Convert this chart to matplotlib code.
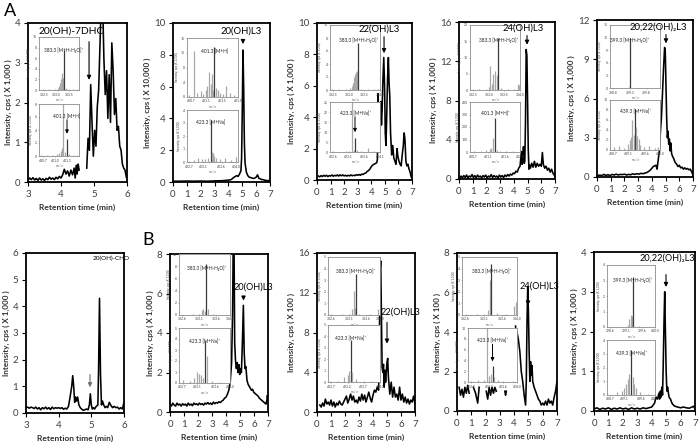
import matplotlib
matplotlib.use("Agg")
import matplotlib.pyplot as plt
import numpy as np

plt.rcParams['font.family'] = ['Lato', 'DejaVu Sans']

nan = float('nan')

# ---------------- chromatograms (time in min, intensity in axis units) ----------------
p1_t = [3.0, 3.05, 3.1, 3.15, 3.2, 3.25, 3.3, 3.35, 3.4, 3.45, 3.5, 3.55, 3.6, 3.65, 3.7, 3.75,
        3.8, 3.85, 3.9, 3.95, 4.0, 4.05, 4.1, 4.15, 4.2, 4.25, 4.3, 4.35, 4.4, 4.43, 4.46, 4.49,
        4.52, 4.55, 4.6, 4.78, 4.82, 4.86, 4.9, 4.94, 4.98, 5.02, 5.06, 5.1, 5.14, 5.18, 5.22,
        5.26, 5.3, 5.34, 5.38, 5.42, 5.46, 5.5, 5.54, 5.58, 5.62, 5.66, 5.7, 5.74, 5.78, 5.82,
        5.86, 5.9, 5.94, 5.98]
p1_y = [0.04, 0.1, 0.06, 0.11, 0.05, 0.09, 0.04, 0.1, 0.05, 0.08, 0.04, 0.09, 0.06, 0.12, 0.07, 0.1,
        0.06, 0.12, 0.08, 0.14, 0.1, 0.18, 0.32, 0.2, 0.28, 0.15, 0.3, 0.18, 0.35, 0.1, 0.42, 0.2,
        0.45, 0.3, nan, 0.35, 1.1, 0.8, 2.45, 1.5, 0.65, 1.3, 0.9, 1.9, 2.3, 3.4, 4.6,
        4.6, 3.1, 2.2, 2.8, 1.6, 2.7, 1.5, 3.5, 2.8, 1.7, 2.1, 1.3, 1.4, 0.9, 0.8,
        0.45, 0.35, 0.3, 0.12]

p2_t = [0.0, 0.5, 1.0, 1.5, 2.0, 2.5, 3.0, 3.5, 3.8, 4.0, 4.2, 4.4, 4.5, 4.6, 4.7, 4.8, 4.9, 4.95,
        5.0, 5.05, 5.1, 5.15, 5.2, 5.3, 5.4, 5.5, 5.6, 5.7, 5.8, 5.9, 6.0, 6.1, 6.15, 6.2, 6.3,
        6.4, 6.5, 6.6, 6.7, 6.8, 6.9, 7.0]
p2_y = [0.05, 0.05, 0.06, 0.05, 0.06, 0.05, 0.07, 0.08, 0.1, 0.12, 0.15, 0.3, 0.35, 0.4, 0.35, 0.5,
        0.7, 1.5, 4.5, 8.3, 6.0, 2.5, 1.2, 0.6, 0.4, 0.3, 0.28, 0.25, 0.22, 0.25, 0.3, 0.45, 0.35,
        0.22, 0.2, 0.15, 0.15, 0.12, 0.1, 0.08, 0.1, 0.05]

p3_t = [0.1, 0.2, 0.3, 0.4, 0.5, 0.6, 0.7, 0.8, 0.9, 1.0, 1.1, 1.2, 1.3, 1.4, 1.5, 1.6, 1.7, 1.8,
        1.9, 2.0, 2.1, 2.2, 2.3, 2.4, 2.5, 2.6, 2.7, 2.8, 2.9, 3.0, 3.1, 3.2, 3.3, 3.4, 3.5, 3.6,
        3.7, 3.8, 3.9, 4.0, 4.1, 4.2, 4.3, 4.4, 4.45, 4.5, 4.55, 4.6, 4.65, 4.7, 4.75, 4.8, 4.85,
        4.92, 4.98, 5.03, 5.08, 5.13, 5.2, 5.26, 5.31, 5.36, 5.42, 5.5, 5.58, 5.66, 5.74, 5.82,
        5.9, 5.96, 6.04, 6.12, 6.2, 6.28, 6.36, 6.42, 6.48, 6.55, 6.62, 6.7, 6.78, 6.86, 6.94, 7.0]
p3_y = [0.25, 0.2, 0.28, 0.22, 0.3, 0.24, 0.3, 0.22, 0.28, 0.25, 0.32, 0.24, 0.3, 0.26, 0.32, 0.25,
        0.33, 0.27, 0.32, 0.26, 0.3, 0.25, 0.3, 0.26, 0.32, 0.27, 0.3, 0.28, 0.34, 0.3, 0.35, 0.3,
        0.38, 0.35, 0.42, 0.45, 0.55, 0.6, 0.7, 0.85, 0.95, 1.0, 1.05, 1.1, 1.3, 5.5, 3.5, 4.6,
        3.8, 5.0, 3.5, 4.5, 6.2, 7.8, 6.0, 3.0, 2.2, 3.8, 6.5, 7.8, 6.2, 5.4, 3.0, 1.6, 2.2, 1.4,
        1.2, 1.0, 2.0, 1.5, 1.2, 1.0, 0.9, 1.6, 2.2, 3.0, 2.6, 1.2, 0.9, 1.0, 0.7, 0.5, 0.2, 0.1]

p4_t = [0.05, 0.15, 0.25, 0.35, 0.45, 0.55, 0.65, 0.75, 0.85, 0.95, 1.05, 1.15, 1.25, 1.35, 1.45,
        1.55, 1.65, 1.75, 1.85, 1.95, 2.05, 2.15, 2.25, 2.35, 2.45, 2.55, 2.65, 2.75, 2.85, 2.95,
        3.05, 3.15, 3.25, 3.35, 3.45, 3.55, 3.65, 3.75, 3.85, 3.95, 4.05, 4.15, 4.25, 4.35, 4.45,
        4.55, 4.6, 4.65, 4.7, 4.75, 4.8, 4.85, 4.9, 4.95, 5.0, 5.05, 5.1, 5.15, 5.2, 5.3, 5.4,
        5.5, 5.6, 5.7, 5.8, 5.9, 6.0, 6.08, 6.15, 6.25, 6.35, 6.45, 6.55, 6.65, 6.75, 6.85, 6.95, 7.0]
p4_y = [0.1, 0.3, 0.1, 0.35, 0.15, 0.4, 0.1, 0.3, 0.2, 0.45, 0.15, 0.35, 0.1, 0.4, 0.2,
        0.3, 0.1, 0.35, 0.2, 0.4, 0.1, 0.3, 0.2, 0.45, 0.15, 0.35, 0.2, 0.3, 0.1, 0.4,
        0.2, 0.35, 0.15, 0.4, 0.25, 0.45, 0.3, 0.5, 0.4, 0.6, 0.55, 0.8, 0.7, 1.1, 1.3,
        2.8, 1.5, 2.0, 3.3, 1.6, 1.8, 6.0, 13.2, 12.6, 8.0, 3.0, 1.0, 1.4, 1.1, 1.6, 1.2,
        1.8, 1.2, 1.6, 1.3, 1.5, 1.3, 2.7, 1.5, 1.1, 1.3, 0.9, 1.1, 0.7, 1.0, 0.6, 0.4, 0.2]

p5_t = [0.05, 0.2, 0.35, 0.5, 0.65, 0.8, 0.95, 1.1, 1.25, 1.4, 1.55, 1.7, 1.85, 2.0, 2.15, 2.3,
        2.45, 2.6, 2.75, 2.9, 3.05, 3.2, 3.35, 3.5, 3.65, 3.8, 3.95, 4.1, 4.2, 4.3, 4.38, 4.45,
        4.55, 4.62, 4.7, 4.78, 4.86, 4.93, 4.98, 5.03, 5.08, 5.13, 5.18, 5.23, 5.28, 5.33, 5.38,
        5.44, 5.5, 5.6, 5.7, 5.8, 5.9, 6.0, 6.1, 6.2, 6.3, 6.4, 6.5, 6.6, 6.7, 6.8, 6.9, 7.0]
p5_y = [0.1, 0.15, 0.1, 0.2, 0.12, 0.18, 0.1, 0.2, 0.15, 0.22, 0.15, 0.2, 0.18, 0.22, 0.15, 0.2,
        0.17, 0.24, 0.2, 0.25, 0.22, 0.28, 0.25, 0.3, 0.35, 0.45, 0.6, 0.8, 0.85, 0.9, 0.6, 1.2,
        2.0, 3.4, 4.6, 6.5, 8.5, 9.9, 9.5, 7.0, 4.5, 3.0, 3.5, 2.5, 2.9, 2.0, 2.6,
        1.8, 1.6, 1.4, 1.1, 1.0, 0.8, 0.9, 0.7, 0.75, 0.6, 0.7, 0.6, 0.65, 0.55, 0.6, 0.4, 0.15]

p6_t = [3.0, 3.05, 3.1, 3.15, 3.2, 3.25, 3.3, 3.35, 3.4, 3.45, 3.5, 3.55, 3.6, 3.65, 3.7, 3.75,
        3.8, 3.85, 3.9, 3.95, 4.0, 4.05, 4.1, 4.15, 4.2, 4.25, 4.3, 4.35, 4.4, 4.43, 4.46, 4.49,
        4.52, 4.55, 4.58, 4.62, 4.66, 4.7, 4.75, 4.8, 4.85, 4.9, 4.94, 4.97, 5.0, 5.03, 5.07,
        5.1, 5.15, 5.2, 5.22, 5.25, 5.28, 5.31, 5.34, 5.38, 5.42, 5.46, 5.5, 5.55, 5.6, 5.65,
        5.7, 5.75, 5.8, 5.85, 5.9, 5.95, 6.0]
p6_y = [0.2, 0.22, 0.18, 0.22, 0.2, 0.17, 0.22, 0.15, 0.2, 0.12, 0.2, 0.16, 0.22, 0.15, 0.2, 0.13,
        0.22, 0.16, 0.2, 0.18, 0.2, 0.17, 0.2, 0.14, 0.18, 0.15, 0.25, 0.6, 1.0, 1.4, 1.0, 0.4,
        0.6, 0.45, 0.6, 0.3, 0.2, 0.15, 0.1, 0.12, 0.15, 0.12, 0.3, 0.72, 0.3, 0.15, 0.2,
        0.15, 0.25, 0.3, 1.5, 4.3, 1.5, 0.3, 0.45, 0.3, 0.2, 0.25, 0.2, 0.4, 0.28, 0.2,
        0.25, 0.2, 0.22, 0.15, 0.2, 0.15, 0.4]

p7_t = [0.0, 0.1, 0.2, 0.3, 0.4, 0.5, 0.6, 0.7, 0.8, 0.9, 1.0, 1.1, 1.2, 1.3, 1.4, 1.5, 1.6, 1.7,
        1.8, 1.9, 2.0, 2.1, 2.2, 2.3, 2.4, 2.5, 2.6, 2.7, 2.8, 2.9, 3.0, 3.1, 3.2, 3.3, 3.4, 3.5,
        3.6, 3.7, 3.8, 3.9, 4.0, 4.1, 4.2, 4.3, 4.4, 4.47, 4.52, 4.57, 4.62, 4.68, 4.74, 4.8,
        4.86, 4.92, 4.98, 5.04, 5.1, 5.17, 5.24, 5.3, 5.36, 5.42, 5.5, 5.58, 5.66, 5.74, 5.82,
        5.9, 5.98, 6.06, 6.14, 6.22, 6.3, 6.38, 6.46, 6.54, 6.62, 6.7, 6.78, 6.86, 6.92, 6.96, 7.0]
p7_y = [0.4, 0.3, 0.45, 0.35, 0.3, 0.45, 0.35, 0.4, 0.3, 0.42, 0.35, 0.4, 0.3, 0.45, 0.35, 0.4,
        0.32, 0.45, 0.38, 0.42, 0.35, 0.45, 0.38, 0.42, 0.35, 0.45, 0.4, 0.48, 0.4, 0.45, 0.38,
        0.5, 0.42, 0.48, 0.45, 0.52, 0.48, 0.55, 0.6, 0.7, 0.75, 0.9, 1.1, 1.5, 2.5, 5.0, 9.0,
        9.0, 3.5, 2.6, 2.2, 2.5, 2.0, 2.4, 1.9, 2.2, 2.0, 3.5, 5.4, 3.0, 2.2, 2.3, 1.6, 1.4,
        1.3, 1.2, 1.1, 1.15, 1.0, 0.95, 0.9, 0.85, 0.8, 0.7, 0.65, 0.6, 0.55, 0.5, 0.45, 0.4,
        0.6, 0.85, 0.6]

p8_t = [0.2, 0.3, 0.4, 0.5, 0.6, 0.7, 0.8, 0.9, 1.0, 1.1, 1.2, 1.3, 1.4, 1.5, 1.6, 1.7, 1.8, 1.9,
        2.0, 2.1, 2.2, 2.3, 2.4, 2.5, 2.6, 2.7, 2.8, 2.9, 3.0, 3.1, 3.2, 3.3, 3.4, 3.5, 3.6, 3.7,
        3.8, 3.9, 4.0, 4.1, 4.2, 4.3, 4.4, 4.45, 4.5, 4.55, 4.6, 4.65, 4.7, 4.75, 4.8, 4.85, 4.9,
        5.0, 5.05, 5.1, 5.2, 5.3, 5.4, 5.5, 5.6, 5.7, 5.8, 5.9, 6.0, 6.1, 6.2, 6.3, 6.4, 6.5,
        6.6, 6.7, 6.8, 6.9, 7.0]
p8_y = [0.7, 0.5, 0.9, 0.6, 1.3, 0.8, 1.0, 0.7, 1.2, 0.6, 1.0, 0.5, 0.9, 0.7, 1.1, 0.8, 0.7, 1.0,
        1.3, 1.6, 0.9, 1.3, 1.8, 1.2, 1.6, 1.0, 1.2, 0.9, 1.5, 1.1, 1.8, 1.2, 1.7, 1.0, 1.5, 2.0,
        1.4, 1.0, 1.7, 2.2, 2.0, 2.5, 2.2, 6.0, 14.0, 15.2, 10.0, 4.5, 4.0, 4.8, 2.5, 4.2, 3.0,
        5.0, 5.4, 3.5, 1.8, 3.0, 1.5, 2.5, 1.5, 1.8, 1.2, 2.5, 1.2, 1.8, 1.0, 1.5, 0.9, 1.3,
        0.8, 1.2, 1.0, 1.6, 0.8]

p9_t = [0.15, 0.25, 0.35, 0.45, 0.55, 0.65, 0.75, 0.85, 1.0, 1.15, 1.3, 1.45, 1.55, 1.8, 2.05,
        2.15, 2.25, 2.35, 2.45, 2.55, 2.65, 2.75, 3.0, 3.35, 3.4, 3.45, 3.8, 4.1, 4.15, 4.2, 4.3,
        4.4, 4.5, 4.6, 4.7, 4.8, 4.85, 4.9, 4.95, 5.0, 5.05, 5.1, 5.15, 5.2, 5.25, 5.3, 5.4, 5.5,
        5.6, 5.7, 5.8, 5.9, 6.0, 6.1, 6.2, 6.3, 6.4, 6.5, 6.6, 6.7, 6.8, 6.9, 7.0]
p9_y = [1.2, 0.8, 1.1, 0.7, 1.2, 0.9, 1.3, 0.9, nan, 1.2, 0.9, 0.4, 1.2, nan, 1.0,
        0.6, 1.2, 0.8, 1.2, 0.9, 1.2, 1.0, nan, 1.0, 0.8, 1.0, nan, 4.3, 3.5, 4.0, 3.6,
        3.0, 2.0, 1.5, 0.8, 0.3, 1.5, 4.5, 6.3, 5.0, 3.0, 1.5, 2.5, 1.8, 2.3, 1.5, 1.2, 1.0,
        0.8, 0.6, 0.5, 0.3, 0.4, 0.3, 0.5, 0.3, 0.6, 0.4, 0.5, 0.3, 0.7, 1.0, 1.5]

p10_t = [0.0, 0.2, 0.4, 0.6, 0.8, 1.0, 1.2, 1.4, 1.6, 1.8, 2.0, 2.2, 2.4, 2.6, 2.8, 3.0, 3.2, 3.4,
         3.6, 3.8, 4.0, 4.2, 4.3, 4.4, 4.5, 4.55, 4.6, 4.65, 4.7, 4.75, 4.8, 4.85, 4.9, 4.95,
         5.0, 5.05, 5.1, 5.2, 5.3, 5.4, 5.5, 5.6, 5.8, 6.0, 6.2, 6.4, 6.6, 6.8, 6.9, 7.0]
p10_y = [0.05, 0.08, 0.04, 0.07, 0.05, 0.08, 0.04, 0.07, 0.05, 0.08, 0.05, 0.07, 0.04, 0.08, 0.05,
         0.07, 0.05, 0.08, 0.06, 0.08, 0.1, 0.2, 0.35, 0.3, 0.45, 0.3, 0.5, 0.35, 0.6, 0.4,
         1.2, 2.2, 3.0, 2.0, 1.0, 0.5, 0.6, 0.35, 0.3, 0.2, 0.15, 0.12, 0.1, 0.08, 0.1, 0.08,
         0.07, 0.1, 0.12, 0.05]

# ---------------- inset mass spectra (m/z, intensity) ----------------
s1u_mz = [382.45, 382.7, 382.95, 383.05, 383.1, 383.14, 383.17, 383.2, 383.23, 383.26, 383.3, 383.36, 383.5, 383.65, 383.8]
s1u_h = [0.15, 0.1, 0.2, 0.3, 0.7, 1.3, 2.0, 2.6, 3.2, 2.2, 7.5, 0.3, 0.15, 0.1, 0.2]
s1l_mz = [400.65, 400.8, 400.95, 401.05, 401.1, 401.14, 401.17, 401.2, 401.25, 401.3, 401.36, 401.45, 401.55]
s1l_h = [0.1, 0.15, 0.1, 0.3, 0.5, 0.8, 1.2, 9.0, 0.6, 2.6, 0.3, 0.15, 0.1]
s2u_mz = [400.65, 400.77, 400.85, 400.95, 401.02, 401.08, 401.12, 401.16, 401.2, 401.23, 401.26, 401.3,
          401.34, 401.38, 401.44, 401.52, 401.6, 401.7, 401.8]
s2u_h = [0.5, 12.5, 1.0, 1.5, 0.8, 2.0, 3.0, 6.8, 3.5, 6.2, 2.0, 13.5, 2.5, 2.0, 1.2, 0.8, 3.0, 1.0, 0.6]
s2l_mz = [422.7, 422.85, 422.95, 423.05, 423.15, 423.22, 423.3, 423.33, 423.36, 423.4, 423.45, 423.55, 423.7, 423.85, 424.0]
s2l_h = [0.1, 0.15, 0.3, 0.2, 0.25, 0.3, 3.2, 0.8, 0.7, 0.5, 0.3, 0.2, 0.3, 0.15, 0.4]
s3u_mz = [382.45, 382.7, 382.9, 383.05, 383.1, 383.14, 383.18, 383.21, 383.24, 383.27, 383.3, 383.4, 383.6, 383.8, 383.95]
s3u_h = [0.15, 0.2, 0.1, 0.3, 0.6, 1.1, 2.0, 2.4, 2.8, 3.0, 7.3, 0.2, 0.15, 0.2, 0.1]
s3l_mz = [422.6, 422.8, 423.0, 423.1, 423.2, 423.26, 423.3, 423.36, 423.5, 423.73, 423.9, 424.05]
s3l_h = [0.3, 0.2, 0.5, 0.6, 27.0, 1.0, 7.0, 1.0, 0.5, 2.2, 0.3, 0.2]
s4u_mz = [382.5, 382.7, 382.9, 383.0, 383.05, 383.1, 383.15, 383.2, 383.25, 383.3, 383.4, 383.6, 383.8, 383.92, 383.97]
s4u_h = [0.3, 0.2, 0.4, 1.0, 7.5, 2.0, 5.0, 6.0, 4.5, 16.0, 0.5, 0.3, 0.4, 2.0, 1.5]
s4l_mz = [400.7, 400.9, 401.05, 401.15, 401.2, 401.25, 401.3, 401.35, 401.45, 401.6, 401.8]
s4l_h = [5, 8, 15, 25, 30, 110, 270, 20, 10, 8, 5]
s5u_mz = [398.8, 399.0, 399.26, 399.3, 399.5, 399.8, 400.0]
s5u_h = [0.05, 0.05, 0.3, 12.0, 0.05, 0.05, 0.05]
s5l_mz = [438.7, 438.85, 439.0, 439.1, 439.15, 439.2, 439.23, 439.26, 439.3, 439.33, 439.36, 439.4, 439.45, 439.55, 439.7, 439.85, 439.95]
s5l_h = [0.5, 0.8, 0.4, 1.2, 2.0, 2.5, 6.0, 3.0, 8.2, 4.5, 2.7, 2.2, 1.0, 0.6, 0.8, 0.4, 0.6]
s7u_mz = [382.6, 382.9, 383.1, 383.18, 383.22, 383.26, 383.3, 383.35, 383.5, 383.8]
s7u_h = [0.05, 0.1, 0.15, 0.8, 1.0, 0.6, 8.3, 1.0, 0.1, 0.05]
s7l_mz = [422.7, 422.9, 423.0, 423.1, 423.15, 423.2, 423.25, 423.3, 423.38, 423.5, 423.7]
s7l_h = [0.3, 0.2, 0.5, 1.0, 0.8, 0.7, 0.5, 3.8, 2.5, 0.2, 0.1]
s8u_mz = [382.6, 382.9, 383.1, 383.2, 383.24, 383.27, 383.3, 383.4, 383.7, 383.95]
s8u_h = [0.05, 0.05, 0.1, 0.5, 2.1, 0.6, 3.5, 0.1, 0.05, 0.5]
s8l_mz = [422.65, 422.9, 423.1, 423.2, 423.25, 423.3, 423.35, 423.45, 423.7, 423.95]
s8l_h = [0.1, 0.1, 0.4, 0.6, 1.0, 3.7, 0.9, 0.3, 0.1, 0.1]
s9u_mz = [382.6, 382.9, 383.1, 383.2, 383.25, 383.27, 383.3, 383.45, 383.7, 383.92, 383.97]
s9u_h = [0.05, 0.05, 0.1, 0.4, 3.0, 1.5, 4.4, 0.2, 0.1, 0.8, 1.1]
s9l_mz = [422.7, 422.9, 423.05, 423.15, 423.2, 423.25, 423.3, 423.35, 423.45, 423.6, 423.9]
s9l_h = [0.2, 0.3, 0.3, 10.5, 1.2, 1.5, 3.0, 1.0, 0.4, 0.2, 0.1]
s10u_mz = [398.6, 399.0, 399.15, 399.2, 399.24, 399.27, 399.3, 399.5, 399.9]
s10u_h = [0.02, 0.03, 0.1, 0.5, 0.8, 0.7, 3.2, 0.05, 0.02]
s10l_mz = [438.6, 438.9, 439.05, 439.1, 439.15, 439.2, 439.25, 439.3, 439.35, 439.4, 439.45, 439.55, 439.8]
s10l_h = [0.1, 0.2, 0.3, 0.5, 0.8, 1.2, 1.5, 3.3, 1.3, 0.8, 0.5, 0.2, 0.1]

W, H = 700, 445
fig = plt.figure(figsize=(7, 4.45), dpi=100)


def box(l, t, r, b):
    # pixel box -> figure fraction rect
    return [l / W, 1 - b / H, (r - l) / W, (b - t) / H]


def chrom(rect, t, y, xlim, xticks, ylim, yticks, ylab):
    ax = fig.add_axes(box(*rect))
    ax.plot(t, y, color='black', lw=1.15)
    ax.set_xlim(*xlim)
    ax.set_ylim(*ylim)
    ax.set_xticks(xticks)
    ax.set_yticks(yticks)
    for s in ax.spines.values():
        s.set_linewidth(1.3)
        s.set_color('black')
    ax.tick_params(labelsize=7, colors='black', labelcolor='#404040', length=3, width=0.8, pad=2.5)
    ax.set_ylabel(ylab, fontsize=5.8, fontweight='bold', color='#303030', labelpad=2)
    ax.set_xlabel('Retention time (min)', fontsize=6, fontweight='bold', color='#303030', labelpad=4)
    return ax


def spectrum(rect, mz, h, main, xlim, xticks, ylim, yticks, label, arrow=None):
    ax = fig.add_axes(box(*rect), zorder=3)
    ax.set_facecolor('white')
    col = ['#3a3a3a' if abs(m - main) < 1e-6 else '#a8a8a8' for m in mz]
    ax.vlines(mz, 0, h, colors=col, lw=0.9)
    ax.set_xlim(*xlim)
    ax.set_ylim(*ylim)
    ax.set_xticks(xticks)
    ax.set_xticklabels(['%.1f' % v for v in xticks])
    ax.set_yticks(yticks)
    for s in ax.spines.values():
        s.set_linewidth(0.6)
        s.set_color('#8c8c8c')
    ax.tick_params(labelsize=2.4, length=1, width=0.4, pad=0.8, colors='#808080', labelcolor='#404040')
    ax.set_ylabel('Intensity, cps (X 1,000)', fontsize=2.2, labelpad=1, color='#404040')
    ax.set_xlabel('m / z', fontsize=2.2, labelpad=0.8, color='#404040')
    frac = (main - xlim[0]) / (xlim[1] - xlim[0])
    ax.text(frac, 0.76, label, transform=ax.transAxes, ha='center', va='center',
            fontsize=3.4, color='#202020')
    if arrow is not None:
        ax.annotate('', xy=(main, arrow[1]), xytext=(main, arrow[0]),
                    arrowprops=dict(arrowstyle='-|>', color='black', lw=0.7, mutation_scale=5))
    return ax


def peak_label(ax, text, tx, ty, ax_x, a_from, a_to, size=7, color='black'):
    # drawn at figure level so it sits on top of the insets
    fig.text(tx, ty, text, transform=ax.transData, ha='center', va='center',
             fontsize=size, color='black', zorder=6)
    ax.annotate('', xy=(ax_x, a_to), xytext=(ax_x, a_from),
                arrowprops=dict(arrowstyle='-|>', color=color, lw=0.8, mutation_scale=6))


lbl = '( X 1,000 )'
HHO = '[M+H-H\u2082O]\u207a'

# ---------------- top row ----------------
ax1 = chrom((28, 23, 127, 182), p1_t, p1_y, (3, 6), [3, 4, 5, 6], (0, 4), [0, 1, 2, 3, 4],
            'Intensity, cps ( X 1,000 )')
peak_label(ax1, '20(OH)-7DHC', 4.3, 3.8, 4.85, 3.6, 2.5, size=7.4)
spectrum((39, 37, 79, 90), s1u_mz, s1u_h, 383.3, (382.3, 383.9), [382.5, 383.0, 383.5],
         (0, 10), [0, 2, 4, 6, 8, 10], '383.3 ' + HHO)
spectrum((39, 104, 79, 156), s1l_mz, s1l_h, 401.3, (400.6, 401.6), [400.7, 401.0, 401.3],
         (0, 8), [0, 2, 4, 6, 8], '401.3 [M+H]', arrow=(6.0, 3.0))

ax2 = chrom((173, 23, 270, 182), p2_t, p2_y, (0, 7), range(8), (0, 10), [0, 2, 4, 6, 8, 10],
            'Intensity, cps ( X 10,000 )')
peak_label(ax2, '20(OH)L3', 4.9, 9.5, 5.05, 9.15, 8.5, size=6.8)
spectrum((187, 38, 238, 97), s2u_mz, s2u_h, 401.3, (400.6, 401.9), [400.7, 401.1, 401.5, 401.9],
         (0, 16), [0, 4, 8, 12, 16], '401.3 [M+H]')
spectrum((187, 110, 238, 162), s2l_mz, s2l_h, 423.3, (422.65, 424.05), [422.7, 423.1, 423.6, 424.0],
         (0, 4), [0, 1, 2, 3, 4], '423.3 [M+Na]')

ax3 = chrom((317, 23, 412, 180), p3_t, p3_y, (0, 7), range(8), (0, 10), [0, 2, 4, 6, 8, 10],
            'Intensity, cps ' + lbl)
peak_label(ax3, '22(OH)L3', 4.55, 9.6, 4.94, 9.3, 7.9, size=6.8)
spectrum((330, 25, 380, 90), s3u_mz, s3u_h, 383.3, (382.4, 384.0), [382.5, 383.0, 383.5, 384.0],
         (0, 10), [0, 2, 4, 6, 8, 10], '383.3 ' + HHO)
spectrum((330, 102, 380, 152), s3l_mz, s3l_h, 423.3, (422.5, 424.1), [422.6, 423.1, 423.6, 424.1],
         (0, 25), [0, 5, 10, 15, 20, 25], '423.3 [M+Na]\u207a', arrow=(19, 8.5))

ax4 = chrom((459, 22, 555, 179), p4_t, p4_y, (0, 7), range(8), (0, 16), [0, 4, 8, 12, 16],
            'Intensity, cps ' + lbl)
peak_label(ax4, '24(OH)L3', 4.65, 15.4, 4.96, 14.9, 13.4, size=6.8)
spectrum((470, 25, 520, 90), s4u_mz, s4u_h, 383.3, (382.4, 384.0), [382.5, 383.0, 383.5, 384.0],
         (0, 20), [0, 5, 10, 15, 20], '383.3 ' + HHO)
spectrum((470, 102, 520, 152), s4l_mz, s4l_h, 401.3, (400.6, 402.0), [400.7, 401.1, 401.6, 402.0],
         (0, 400), [0, 100, 200, 300, 400], '401.3 [M+H]\u207a')

ax5 = chrom((597, 20, 693, 177), p5_t, p5_y, (0, 7), range(8), (0, 12), [0, 3, 6, 9, 12],
            'Intensity, cps ' + lbl)
peak_label(ax5, '20,22(OH)\u2082L3', 4.5, 11.45, 5.03, 11.1, 10.0, size=6.8)
spectrum((610, 25, 660, 88), s5u_mz, s5u_h, 399.3, (398.7, 400.2), [398.8, 399.3, 399.8],
         (0, 15), [0, 3, 6, 9, 12, 15], '399.3 ' + HHO)
spectrum((610, 100, 660, 150), s5l_mz, s5l_h, 439.3, (438.6, 440.0), [438.7, 439.1, 439.6, 440.0],
         (0, 10), [0, 2, 4, 6, 8, 10], '439.3 [M+Na]\u207a')

# ---------------- bottom row ----------------
ax6 = chrom((26, 253, 124, 413), p6_t, p6_y, (3, 6), [3, 4, 5, 6], (0, 6), range(7),
            'Intensity, cps ( X 1,000 )')
ax6.text(5.6, 5.78, '20(OH)-CHO', ha='center', va='center', fontsize=4.6, color='black')
ax6.annotate('', xy=(4.96, 0.86), xytext=(4.96, 1.55),
             arrowprops=dict(arrowstyle='-|>', color='#707070', lw=0.8, mutation_scale=6))

ax7 = chrom((170, 254, 268, 412), p7_t, p7_y, (0, 7), range(8), (0, 8), [0, 2, 4, 6, 8],
            'Intensity, cps ' + lbl)
peak_label(ax7, '20(OH)L3', 5.95, 6.3, 5.25, 6.0, 5.5, size=6.6)
spectrum((179, 254, 230, 315), s7u_mz, s7u_h, 383.3, (382.5, 384.0), [382.6, 383.1, 383.6, 384.0],
         (0, 10), [0, 2, 4, 6, 8, 10], '383.3 ' + HHO)
spectrum((179, 328, 230, 383), s7l_mz, s7l_h, 423.3, (422.6, 424.0), [422.7, 423.1, 423.6, 424.0],
         (0, 5), [0, 1, 2, 3, 4, 5], '423.3 [M+Na]\u207a')

ax8 = chrom((317, 253, 415, 412), p8_t, p8_y, (0, 7), range(8), (0, 16), [0, 4, 8, 12, 16],
            'Intensity, cps ( X 100 )')
peak_label(ax8, '22(OH)L3', 5.95, 10.1, 5.0, 9.3, 6.6, size=6.6)
spectrum((328, 257, 380, 315), s8u_mz, s8u_h, 383.3, (382.5, 384.0), [382.6, 383.1, 383.6, 384.0],
         (0, 5), [0, 1, 2, 3, 4, 5], '383.3 ' + HHO)
spectrum((328, 325, 380, 382), s8l_mz, s8l_h, 423.3, (422.6, 424.2), [422.7, 423.2, 423.7, 424.2],
         (0, 5), [0, 1, 2, 3, 4, 5], '423.3 [M+Na]\u207a')

ax9 = chrom((457, 253, 557, 411), p9_t, p9_y, (0, 7), range(8), (0, 8), [0, 2, 4, 6, 8],
            'Intensity, cps ( X 100 )')
peak_label(ax9, '24(OH)L3', 5.8, 6.3, 4.97, 6.0, 5.2, size=6.6)
spectrum((462, 257, 517, 315), s9u_mz, s9u_h, 383.3, (382.5, 384.0), [382.6, 383.1, 383.6, 384.0],
         (0, 5), [0, 1, 2, 3, 4, 5], '383.3 ' + HHO)
spectrum((468, 328, 517, 382), s9l_mz, s9l_h, 423.3, (422.6, 424.0), [422.7, 423.2, 423.6, 424.0],
         (0, 10), [0, 2, 4, 6, 8, 10], '423.3 [M+Na]\u207a', arrow=(7.5, 3.3))

ax10 = chrom((594, 252, 695, 411), p10_t, p10_y, (0, 7), range(8), (0, 4), [0, 1, 2, 3, 4],
             'Intensity, cps ' + lbl)
peak_label(ax10, '20,22(OH)\u2082L3', 5.06, 3.85, 4.99, 3.5, 3.05, size=6.6)
spectrum((607, 265, 655, 327), s10u_mz, s10u_h, 399.3, (398.5, 400.0), [398.6, 399.1, 399.6, 400.0],
         (0, 4), [0, 1, 2, 3, 4], '399.3 ' + HHO)
spectrum((607, 340, 655, 395), s10l_mz, s10l_h, 439.3, (438.6, 440.0), [438.7, 439.1, 439.6, 440.0],
         (0, 4), [0, 1, 2, 3, 4], '439.3 [M+Na]\u207a')

fig.text(10 / W, 1 - 11 / H, 'A', fontsize=13, ha='center', va='center')
fig.text(148 / W, 1 - 240 / H, 'B', fontsize=13, ha='center', va='center')

fig.savefig('out.png', dpi=100, facecolor='white')
